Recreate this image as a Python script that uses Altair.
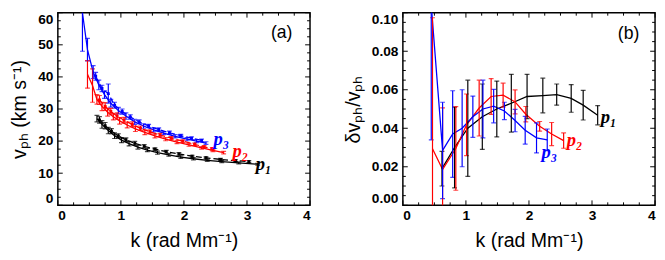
import altair as alt
import pandas as pd

# ---------------- Panel (a): phase speed ----------------
# p1 (black)
a1_k = [0.62, 0.70, 0.80, 0.90, 1.01, 1.13, 1.27, 1.42, 1.58, 1.76, 1.95, 2.15, 2.37, 2.60, 2.87, 3.17]
a1_v = [27.0, 25.2, 23.3, 21.7, 20.3, 19.2, 18.1, 17.2, 16.4, 15.7, 15.0, 14.5, 14.0, 13.6, 13.2, 12.8]
a1_e = [1.0, 1.2, 1.0, 0.9, 0.8, 0.7, 0.6, 0.5, 0.5, 0.4, 0.4, 0.4, 0.3, 0.3, 0.3, 0.3]
a1d_k = [0.66, 0.75, 0.85, 0.96, 1.08, 1.22, 1.37, 1.54, 1.72, 1.92, 2.13, 2.35, 2.58, 2.82, 3.03]
a1d_v = [26.6, 24.8, 23.1, 21.6, 20.4, 19.3, 18.4, 17.5, 16.7, 16.0, 15.3, 14.8, 14.3, 13.9, 13.6]
a1d_e = [1.0, 1.0, 0.8, 0.7, 0.6, 0.6, 0.5, 0.4, 0.4, 0.4, 0.3, 0.3, 0.3, 0.3, 0.3]
# p2 (red)
a2_k = [0.47, 0.55, 0.62, 0.70, 0.79, 0.88, 0.98, 1.10, 1.23, 1.38, 1.54, 1.71, 1.89, 2.08, 2.28, 2.46, 2.63]
a2_v = [40.8, 37.3, 33.0, 30.8, 29.0, 27.6, 26.3, 25.0, 23.8, 22.7, 21.6, 20.6, 19.7, 18.8, 17.9, 17.1, 16.4]
a2_e = [4.3, 5.2, 1.5, 1.3, 1.2, 1.0, 1.0, 0.9, 0.8, 0.7, 0.6, 0.5, 0.5, 0.4, 0.4, 0.4, 0.4]
a2d_k = [0.66, 0.75, 0.84, 0.94, 1.05, 1.18, 1.31, 1.46, 1.62, 1.80, 1.98, 2.17, 2.32, 2.45]
a2d_v = [32.8, 30.8, 29.2, 27.8, 26.5, 25.2, 24.0, 22.9, 21.9, 20.9, 20.0, 19.0, 18.2, 17.6]
a2d_e = [1.4, 1.2, 1.0, 1.0, 0.9, 0.8, 0.7, 0.6, 0.5, 0.5, 0.4, 0.4, 0.4, 0.4]
# p3 (blue)
a3_k = [0.39, 0.47, 0.56, 0.65, 0.74, 0.84, 0.96, 1.08, 1.22, 1.36, 1.52, 1.68, 1.86, 2.05, 2.20, 2.35]
a3_v = [60.0, 48.5, 41.5, 37.5, 34.5, 31.8, 29.5, 27.8, 26.0, 24.7, 23.5, 22.5, 21.5, 20.6, 20.0, 19.4]
a3_e = [12.0, 3.5, 2.0, 1.5, 1.2, 1.2, 1.0, 1.0, 0.8, 0.7, 0.6, 0.5, 0.5, 0.5, 0.5, 0.4]
a3d_k = [0.60, 0.70, 0.80, 0.90, 1.02, 1.15, 1.29, 1.44, 1.60, 1.77, 1.95, 2.12, 2.28]
a3d_v = [40.2, 36.4, 34.8, 31.2, 29.2, 27.5, 26.0, 24.7, 23.6, 22.6, 21.7, 20.9, 20.2]
a3d_e = [1.2, 1.0, 3.0, 0.9, 0.8, 0.7, 0.6, 0.5, 0.5, 0.5, 0.4, 0.4, 0.4]

# ---------------- Panel (b): relative uncertainty ----------------
b1_k = [0.62, 0.82, 1.03, 1.26, 1.49, 1.72, 1.97, 2.22, 2.44, 2.67, 2.86, 3.09]
b1_d = [0.019, 0.030, 0.040, 0.046, 0.050, 0.053, 0.0565, 0.057, 0.0575, 0.0555, 0.052, 0.0468]
b1_e = [0.009, 0.021, 0.025, 0.017, 0.0145, 0.015, 0.0115, 0.009, 0.0055, 0.0072, 0.0077, 0.005]
b2_k = [0.47, 0.63, 0.84, 1.01, 1.21, 1.40, 1.59, 1.78, 1.95, 2.17, 2.36, 2.55]
b2_d = [0.0294, 0.0186, 0.0295, 0.0418, 0.0505, 0.0565, 0.0572, 0.0537, 0.0473, 0.041, 0.037, 0.0336]
b2_e = [0.068, 0.032, 0.0217, 0.016, 0.0145, 0.0093, 0.0062, 0.0062, 0.004, 0.0025, 0.006, 0.004]
b3_k = [0.45, 0.63, 0.79, 0.94, 1.11, 1.27, 1.44, 1.61, 1.78, 1.94, 2.12, 2.29]
b3_d = [0.104, 0.0285, 0.037, 0.040, 0.046, 0.050, 0.0515, 0.049, 0.044, 0.039, 0.035, 0.034]
b3_e = [0.07, 0.025, 0.0225, 0.02, 0.0107, 0.015, 0.0087, 0.0045, 0.0058, 0.0072, 0.0078, 0.0056]

series = ["p1", "p2", "p3"]
colors = ["black", "#ff0000", "#0000ff"]
label_text = ["p\u2081", "p\u2082", "p\u2083"]
a_lab_k = [3.14, 2.77, 2.47]
a_lab_v = [12.8, 16.8, 20.5]
b_lab_k = [3.14, 2.60, 2.20]
b_lab_v = [0.0459, 0.034, 0.0274]

x_major = [0, 1, 2, 3, 4]
x_minor = [i * 0.25 for i in range(17) if i % 4]
ya_major = [0, 10, 20, 30, 40, 50, 60]
ya_minor = [i * 2.5 for i in range(25) if i % 4]
yb_major = [0.0, 0.02, 0.04, 0.06, 0.08, 0.10]
yb_minor = [i * 0.005 for i in range(21) if i % 4]

W, H = 258, 197
MAJ, MIN = 5, 3


def make_df(ks, vs, es, s):
    return pd.DataFrame({"k": ks, "v": vs, "lo": [v - e for v, e in zip(vs, es)],
                         "hi": [v + e for v, e in zip(vs, es)], "s": s})


color_enc = alt.Color("s:N", scale=alt.Scale(domain=series, range=colors), legend=None)


def panel(solid_df, dashed_df, ys, yax, xax, ymaj, ymin, lab_k, lab_v, tag, tag_k, tag_v):
    xs = alt.Scale(domain=[0, 4], nice=False, zero=False)
    X = alt.X("k:Q", scale=xs, axis=xax)
    Y = alt.Y("v:Q", scale=ys, axis=yax)
    layers = []
    # inward ticks on all four sides
    for vals, ln in ((x_major, MAJ), (x_minor, MIN)):
        d = pd.DataFrame({"k": vals})
        layers.append(alt.Chart(d).mark_rule(color="black", strokeWidth=1).encode(
            x=X, y=alt.value(H), y2=alt.value(H - ln)))
        layers.append(alt.Chart(d).mark_rule(color="black", strokeWidth=1).encode(
            x=X, y=alt.value(0), y2=alt.value(ln)))
    for vals, ln in ((ymaj, MAJ), (ymin, MIN)):
        d = pd.DataFrame({"v": vals})
        layers.append(alt.Chart(d).mark_rule(color="black", strokeWidth=1).encode(
            y=Y, x=alt.value(0), x2=alt.value(ln)))
        layers.append(alt.Chart(d).mark_rule(color="black", strokeWidth=1).encode(
            y=Y, x=alt.value(W), x2=alt.value(W - ln)))
    # data
    layers.append(alt.Chart(solid_df).mark_line(strokeWidth=1.3, clip=True).encode(
        x=X, y=Y, color=color_enc, detail="s:N"))
    layers.append(alt.Chart(solid_df).mark_errorbar(ticks=True, size=5, thickness=1.2, clip=True).encode(
        x=X, y=alt.Y("lo:Q", scale=ys, axis=yax), y2="hi:Q", color=color_enc))
    if dashed_df is not None:
        layers.append(alt.Chart(dashed_df).mark_line(strokeWidth=1.3, strokeDash=[6, 3], clip=True).encode(
            x=X, y=Y, color=color_enc, detail="s:N"))
        layers.append(alt.Chart(dashed_df).mark_square(size=9, opacity=1, filled=True, clip=True).encode(
            x=X, y=Y, color=color_enc))
        layers.append(alt.Chart(dashed_df).mark_errorbar(ticks=True, size=5, thickness=1.2, clip=True).encode(
            x=X, y=alt.Y("lo:Q", scale=ys, axis=yax), y2="hi:Q", color=color_enc))
    lab = pd.DataFrame({"k": lab_k, "v": lab_v, "t": label_text, "s": series})
    layers.append(alt.Chart(lab).mark_text(align="left", baseline="middle", font="Liberation Serif",
                                           fontStyle="italic", fontWeight="bold", fontSize=19).encode(
        x=X, y=Y, text="t:N", color=color_enc))
    tg = pd.DataFrame({"k": [tag_k], "v": [tag_v], "t": [tag]})
    layers.append(alt.Chart(tg).mark_text(align="center", baseline="middle", font="Liberation Sans",
                                          fontSize=18, color="black").encode(x=X, y=Y, text="t:N"))
    return alt.layer(*layers).properties(width=W, height=H)


xaxis = alt.Axis(values=x_major, format="d", title="k (rad Mm\u207b\u00b9)", labelPadding=4, titlePadding=8)

solid_a = pd.concat([make_df(a1_k, a1_v, a1_e, "p1"), make_df(a2_k, a2_v, a2_e, "p2"),
                     make_df(a3_k, a3_v, a3_e, "p3")])
dashed_a = pd.concat([make_df(a1d_k, a1d_v, a1d_e, "p1"), make_df(a2d_k, a2d_v, a2d_e, "p2"),
                      make_df(a3d_k, a3d_v, a3d_e, "p3")])
solid_b = pd.concat([make_df(b1_k, b1_d, b1_e, "p1"), make_df(b2_k, b2_d, b2_e, "p2"),
                     make_df(b3_k, b3_d, b3_e, "p3")])

ya_scale = alt.Scale(domain=[0, 60], nice=False, zero=False)
yb_scale = alt.Scale(domain=[0, 0.10], nice=False, zero=False)
ya_axis = alt.Axis(values=ya_major, format="d", title="v\u209a\u2095 (km s\u207b\u00b9)",
                   labelPadding=5, titlePadding=9, labelFlush=True)
yb_axis = alt.Axis(values=yb_major, format=".2f", title="\u03b4v\u209a\u2095/v\u209a\u2095",
                   labelPadding=5, titlePadding=8, labelFlush=True)

pa = panel(solid_a, dashed_a, ya_scale, ya_axis, xaxis, ya_major, ya_minor, a_lab_k, a_lab_v, "(a)", 3.55, 53.6)
pb = panel(solid_b, None, yb_scale, yb_axis, xaxis, yb_major, yb_minor, b_lab_k, b_lab_v, "(b)", 3.58, 0.089)

chart = alt.hconcat(pa, pb, spacing=32).properties(padding=0).configure_axis(
    labelFont="Liberation Sans", labelFontWeight="bold", labelFontSize=14, labelColor="black",
    titleFont="Liberation Sans", titleFontWeight="normal", titleFontSize=20, titleColor="black",
    ticks=False, domain=False, grid=False
).configure_view(stroke="black", strokeWidth=1.5)

chart.save("out.html", embed_options={"renderer": "svg", "actions": False})
